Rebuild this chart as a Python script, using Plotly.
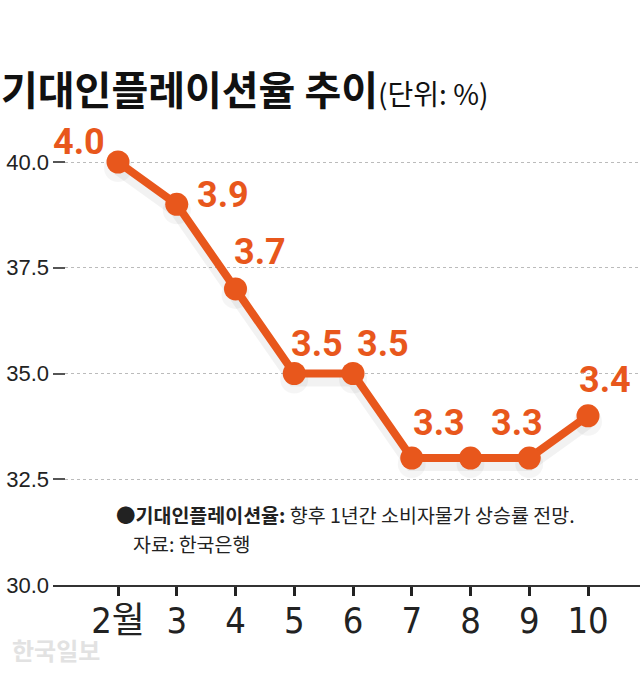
import plotly.graph_objects as go

# ---- data ----
months = [2, 3, 4, 5, 6, 7, 8, 9, 10]
month_labels = ["2월", "3", "4", "5", "6", "7", "8", "9", "10"]
values = [40.0, 39.0, 37.0, 35.0, 35.0, 33.0, 33.0, 33.0, 34.0]
value_labels = ["4.0", "3.9", "3.7", "3.5", "3.5", "3.3", "", "3.3", "3.4"]
y_ticks = [30.0, 32.5, 35.0, 37.5, 40.0]

title_text = "기대인플레이션율 추이"
unit_text = "(단위: %)"
note_bold = "●기대인플레이션율:"
note_text = " 향후 1년간 소비자물가 상승률 전망."
source_text = "자료: 한국은행"
watermark = "한국일보"

# ---- style ----
W, H = 640, 673
L, R, T, B = 53, 0, 120, 88
PW, PH = W - L - R, H - T - B
ORANGE = "#E8571C"
label_dx = [-39, 46, 24, 23, 30, 27, 0, -12, 17]
label_dy = [20, 9, 37, 30, 30, 35, 0, 35, 36]

def px_to_paper(px, py):
    return (px - L) / PW, (H - B - py) / PH

fig = go.Figure()

# soft shadow under the line
shadow_dy = 6 / (PH / 11.0)
fig.add_trace(go.Scatter(
    x=months, y=[v - shadow_dy for v in values], mode="lines+markers",
    line=dict(color="rgba(0,0,0,0.05)", width=14),
    marker=dict(size=28, color="rgba(0,0,0,0.04)"),
    hoverinfo="skip", showlegend=False))

fig.add_trace(go.Scatter(
    x=months, y=values, mode="lines+markers",
    line=dict(color=ORANGE, width=8),
    marker=dict(size=23, color=ORANGE),
    showlegend=False))

annotations = []
for m, v, t, dx, dy in zip(months, values, value_labels, label_dx, label_dy):
    if not t:
        continue
    annotations.append(dict(
        x=m, y=v, xref="x", yref="y", text=f"<b>{t}</b>", showarrow=False,
        xanchor="center", yanchor="middle", xshift=dx, yshift=dy, borderpad=0,
        font=dict(family="Roboto, Noto Sans, sans-serif", size=36, color=ORANGE)))

tx, ty = px_to_paper(0, 88)
annotations.append(dict(
    x=tx, y=ty, xref="paper", yref="paper", showarrow=False,
    xanchor="left", yanchor="middle", borderpad=0,
    text=f"<b>{title_text}</b><span style='font-size:28px'>{unit_text}</span>",
    font=dict(family="Noto Sans CJK KR, sans-serif", size=40, color="#111111")))

nx, ny = px_to_paper(115, 514)
annotations.append(dict(
    x=nx, y=ny, xref="paper", yref="paper", showarrow=False,
    xanchor="left", yanchor="middle", align="left", borderpad=0,
    text=f"<b>{note_bold}</b>{note_text}",
    font=dict(family="Noto Sans CJK KR, sans-serif", size=19.5, color="#222222")))

sx, sy = px_to_paper(132, 543)
annotations.append(dict(
    x=sx, y=sy, xref="paper", yref="paper", showarrow=False,
    xanchor="left", yanchor="middle", align="left", borderpad=0,
    text=source_text,
    font=dict(family="Noto Sans CJK KR, sans-serif", size=19.5, color="#222222")))

wx, wy = px_to_paper(56, 650)
annotations.append(dict(
    x=wx, y=wy, xref="paper", yref="paper", showarrow=False,
    xanchor="center", yanchor="middle", text=f"<b>{watermark}</b>", borderpad=0,
    font=dict(family="Noto Sans CJK KR, sans-serif", size=24, color="#e2e2e2")))

fig.update_layout(
    width=W, height=H, margin=dict(l=L, r=R, t=T, b=B),
    paper_bgcolor="white", plot_bgcolor="white",
    annotations=annotations,
    xaxis=dict(
        range=[2 - 65 / 58.75, 10 + 52 / 58.75],
        tickmode="array", tickvals=months, ticktext=month_labels,
        showgrid=False, zeroline=False,
        showline=True, linecolor="#333333", linewidth=1.5,
        ticks="outside", ticklen=9, tickwidth=3, tickcolor="#222222",
        ticklabelstandoff=-6,
        tickfont=dict(family="Liberation Sans Narrow, DejaVu Sans Condensed, Noto Sans CJK KR, sans-serif",
                      size=36, color="#222222"),
        fixedrange=True),
    yaxis=dict(
        range=[30, 30 + PH / 42.3],
        tickmode="array", tickvals=y_ticks,
        ticktext=[f"{v:.1f}" for v in y_ticks],
        showgrid=True, gridcolor="#bbbbbb", griddash="dot", gridwidth=1,
        zeroline=False, showline=False,
        ticks="inside", ticklen=12, tickwidth=2, tickcolor="#555555",
        ticklabelstandoff=3,
        tickfont=dict(family="Liberation Sans, Arial, sans-serif", size=22, color="#222222"),
        fixedrange=True),
)

fig.write_html("out.html", config={"displayModeBar": False},
               post_script="document.body.style.margin='0';document.body.style.overflow='hidden';")
